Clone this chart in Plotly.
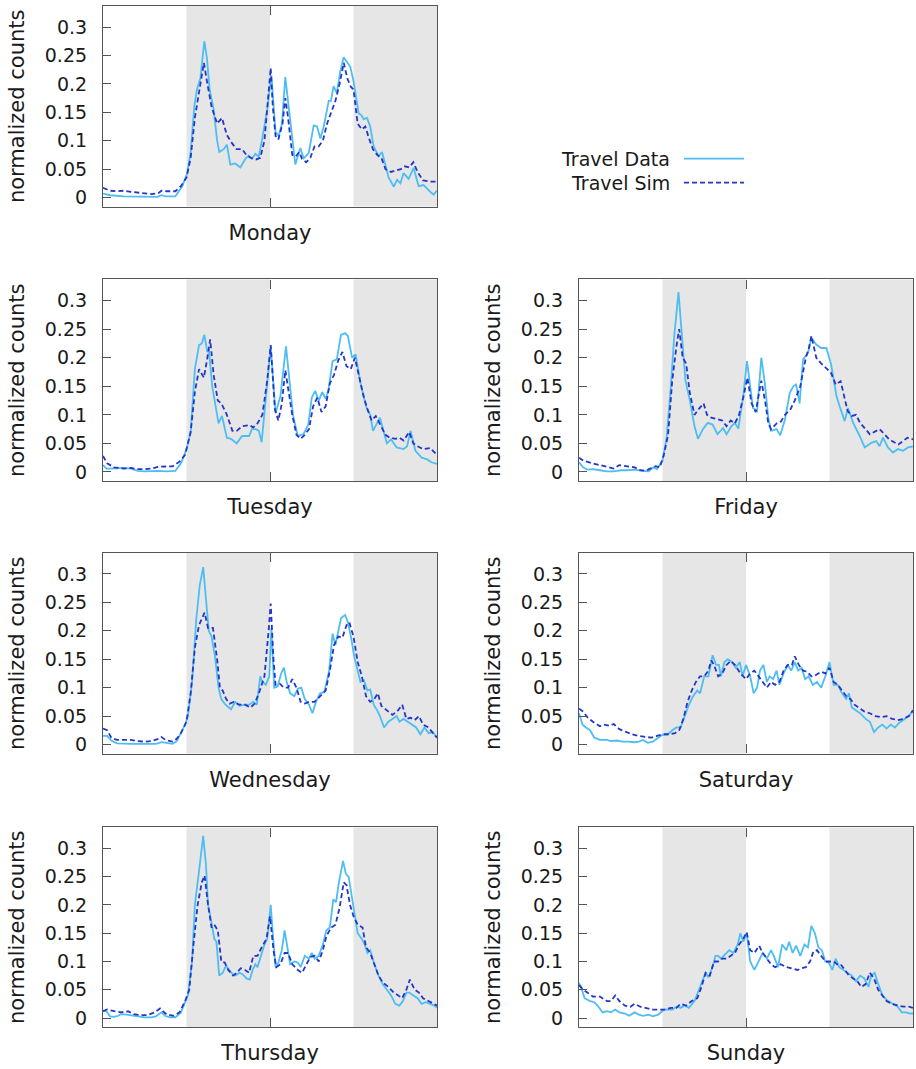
import plotly.graph_objects as go

# ---------------- data (hour of day, normalized counts) ----------------
mon_data_h = [0, 0.53, 1.5, 2.7, 3.9, 4.2, 4.5, 5.2, 5.7, 6.04, 6.3, 6.56, 6.75, 7.0, 7.28, 7.47, 7.66, 7.95, 8.2, 8.36, 8.67, 8.9, 9.15, 9.5, 9.87, 10.23, 10.47, 10.7, 10.95, 11.19, 11.42, 11.8, 12.1, 12.4, 12.62, 12.86, 13.1, 13.34, 13.65, 13.82, 14.18, 14.42, 14.78, 15.14, 15.38, 15.62, 15.86, 16.22, 16.38, 16.57, 16.8, 17.05, 17.29, 17.53, 17.77, 18.0, 18.37, 18.56, 18.73, 18.97, 19.2, 19.45, 19.8, 20.05, 20.53, 20.9, 21.13, 21.37, 21.6, 21.96, 22.32, 22.68, 23.04, 23.52, 23.76, 24]
mon_data_v = [0.007, 0.004, 0.002, 0.001, 0.001, 0.004, 0.002, 0.002, 0.02, 0.042, 0.08, 0.16, 0.19, 0.21, 0.275, 0.245, 0.19, 0.155, 0.1, 0.08, 0.085, 0.093, 0.058, 0.06, 0.053, 0.068, 0.074, 0.068, 0.077, 0.072, 0.1, 0.155, 0.215, 0.115, 0.108, 0.13, 0.212, 0.16, 0.09, 0.058, 0.087, 0.069, 0.078, 0.127, 0.125, 0.104, 0.125, 0.17, 0.17, 0.196, 0.184, 0.222, 0.247, 0.238, 0.23, 0.205, 0.148, 0.145, 0.138, 0.14, 0.125, 0.09, 0.073, 0.08, 0.035, 0.019, 0.031, 0.025, 0.043, 0.033, 0.052, 0.02, 0.022, 0.01, 0.005, 0.012]
mon_sim_h = [0, 0.5, 1.0, 1.5, 2.0, 2.5, 3.0, 3.5, 4.0, 4.2, 4.6, 5.2, 5.6, 6.0, 6.3, 6.6, 7.0, 7.25, 7.5, 7.8, 8.2, 8.55, 8.9, 9.2, 9.6, 10.0, 10.3, 10.6, 11.0, 11.3, 11.6, 11.9, 12.05, 12.2, 12.4, 12.6, 12.9, 13.1, 13.3, 13.6, 13.85, 14.1, 14.3, 14.6, 14.9, 15.2, 15.5, 15.8, 16.1, 16.4, 16.7, 17.0, 17.3, 17.55, 17.8, 18.0, 18.3, 18.6, 18.85, 19.1, 19.4, 19.7, 20.0, 20.3, 20.7, 21.1, 21.4, 21.7, 22.0, 22.3, 22.6, 23.0, 23.5, 24]
mon_sim_v = [0.017, 0.012, 0.011, 0.012, 0.01, 0.009, 0.007, 0.006, 0.008, 0.012, 0.011, 0.011, 0.02, 0.035, 0.07, 0.14, 0.2, 0.237, 0.2, 0.16, 0.13, 0.14, 0.11, 0.098, 0.085, 0.085, 0.075, 0.07, 0.067, 0.07, 0.1, 0.18, 0.228, 0.16, 0.108, 0.102, 0.13, 0.175, 0.14, 0.075, 0.072, 0.08, 0.068, 0.062, 0.07, 0.09, 0.09, 0.1, 0.13, 0.15, 0.17, 0.2, 0.237, 0.21, 0.195, 0.19, 0.13, 0.12, 0.125, 0.105, 0.085, 0.075, 0.07, 0.05, 0.045, 0.048, 0.05, 0.055, 0.053, 0.062, 0.045, 0.03, 0.028, 0.028]

tue_data_h = [0, 0.25, 0.6, 1.0, 1.5, 2.0, 2.5, 3.0, 4.0, 4.5, 5.2, 5.6, 6.0, 6.3, 6.6, 6.9, 7.1, 7.28, 7.5, 7.6, 7.85, 8.3, 8.55, 8.9, 9.2, 9.6, 10.0, 10.5, 10.7, 11.0, 11.2, 11.4, 11.7, 12.05, 12.4, 12.75, 13.15, 13.4, 13.65, 14.0, 14.4, 14.75, 15.0, 15.25, 15.5, 15.75, 16.0, 16.2, 16.5, 16.8, 17.1, 17.4, 17.6, 17.9, 18.15, 18.5, 18.9, 19.2, 19.4, 19.9, 20.4, 20.7, 21.1, 21.6, 21.85, 22.1, 22.45, 22.9, 23.3, 23.6, 24]
tue_data_v = [0.012, 0.006, 0.006, 0.007, 0.007, 0.006, 0.002, 0.001, 0.002, 0.001, 0.002, 0.015, 0.04, 0.07, 0.18, 0.222, 0.225, 0.24, 0.21, 0.215, 0.15, 0.085, 0.098, 0.06, 0.058, 0.05, 0.063, 0.063, 0.075, 0.075, 0.072, 0.052, 0.13, 0.22, 0.103, 0.133, 0.22, 0.165, 0.1, 0.063, 0.066, 0.083, 0.13, 0.142, 0.125, 0.14, 0.128, 0.144, 0.194, 0.197, 0.24, 0.243, 0.238, 0.2, 0.206, 0.156, 0.115, 0.1, 0.072, 0.095, 0.05, 0.057, 0.043, 0.04, 0.045, 0.072, 0.037, 0.025, 0.022, 0.017, 0.014]
tue_sim_h = [0, 0.3, 0.8, 1.5, 2.0, 2.5, 3.0, 3.5, 4.0, 4.5, 5.0, 5.5, 5.9, 6.3, 6.6, 6.9, 7.25, 7.5, 7.7, 7.95, 8.25, 8.5, 8.9, 9.3, 9.6, 10.0, 10.5, 10.8, 11.1, 11.45, 11.8, 12.05, 12.35, 12.6, 12.85, 13.1, 13.35, 13.6, 13.9, 14.2, 14.5, 14.8, 15.1, 15.4, 15.7, 16.0, 16.3, 16.6, 16.9, 17.2, 17.5, 17.8, 18.1, 18.4, 18.7, 19.0, 19.3, 19.6, 20.0, 20.3, 20.6, 21.0, 21.3, 21.6, 22.0, 22.3, 22.6, 23.0, 23.5, 24]
tue_sim_v = [0.028, 0.015, 0.008, 0.006, 0.007, 0.005, 0.005, 0.006, 0.009, 0.009, 0.01, 0.018, 0.03, 0.07, 0.14, 0.18, 0.165, 0.2, 0.232, 0.17, 0.125, 0.12, 0.1, 0.072, 0.072, 0.08, 0.082, 0.078, 0.085, 0.1, 0.16, 0.222, 0.11, 0.09, 0.12, 0.178, 0.14, 0.1, 0.065, 0.058, 0.065, 0.075, 0.115, 0.13, 0.105, 0.115, 0.155, 0.17, 0.195, 0.21, 0.185, 0.18, 0.2, 0.165, 0.135, 0.11, 0.09, 0.098, 0.08, 0.065, 0.06, 0.058, 0.06, 0.055, 0.07, 0.05, 0.045, 0.04, 0.042, 0.03]

fri_data_h = [0, 0.3, 0.6, 1.0, 1.5, 2.0, 2.5, 3.0, 3.5, 4.0, 4.5, 5.0, 5.35, 5.6, 6.0, 6.3, 6.6, 6.85, 7.15, 7.4, 7.65, 7.95, 8.3, 8.55, 8.9, 9.25, 9.6, 9.95, 10.35, 10.6, 10.95, 11.2, 11.45, 11.8, 12.07, 12.27, 12.5, 12.8, 13.1, 13.35, 13.6, 13.8, 14.2, 14.45, 14.8, 15.15, 15.4, 15.6, 15.85, 16.1, 16.45, 16.7, 17.05, 17.4, 17.78, 18.12, 18.5, 18.73, 19.09, 19.33, 19.7, 20.17, 20.53, 21.0, 21.36, 21.6, 21.84, 22.2, 22.56, 22.92, 23.28, 23.64, 24]
fri_data_v = [0.017, 0.008, 0.004, 0.005, 0.003, 0.001, 0.001, 0.003, 0.003, 0.004, 0.002, 0.001, 0.008, 0.005, 0.02, 0.06, 0.15, 0.24, 0.315, 0.24, 0.16, 0.127, 0.08, 0.058, 0.075, 0.086, 0.083, 0.066, 0.077, 0.066, 0.08, 0.086, 0.076, 0.133, 0.194, 0.156, 0.112, 0.107, 0.2, 0.156, 0.095, 0.072, 0.075, 0.064, 0.092, 0.139, 0.15, 0.153, 0.12, 0.197, 0.208, 0.235, 0.223, 0.217, 0.217, 0.188, 0.133, 0.115, 0.089, 0.112, 0.086, 0.063, 0.043, 0.051, 0.054, 0.045, 0.06, 0.043, 0.034, 0.04, 0.037, 0.043, 0.045]
fri_sim_h = [0, 0.3, 1.0, 1.5, 2.0, 2.5, 2.9, 3.5, 4.0, 4.4, 4.8, 5.2, 5.5, 5.8, 6.1, 6.4, 6.7, 7.0, 7.2, 7.45, 7.7, 7.95, 8.3, 8.6, 8.95, 9.2, 9.5, 9.9, 10.3, 10.6, 10.9, 11.2, 11.5, 11.8, 12.1, 12.4, 12.7, 12.95, 13.1, 13.4, 13.6, 13.8, 14.2, 14.5, 14.8, 15.2, 15.5, 15.9, 16.3, 16.5, 16.7, 17.05, 17.4, 18.1, 18.45, 18.8, 19.3, 19.6, 19.9, 20.2, 20.9, 21.6, 22.3, 22.95, 23.6, 24]
fri_sim_v = [0.025, 0.02, 0.015, 0.012, 0.01, 0.006, 0.012, 0.01, 0.008, 0.003, 0.002, 0.007, 0.01, 0.008, 0.03, 0.065, 0.16, 0.22, 0.25, 0.2, 0.19, 0.14, 0.1, 0.11, 0.12, 0.1, 0.095, 0.093, 0.09, 0.08, 0.09, 0.085, 0.1, 0.13, 0.165, 0.12, 0.105, 0.14, 0.16, 0.12, 0.085, 0.075, 0.085, 0.088, 0.1, 0.11, 0.125, 0.15, 0.2, 0.215, 0.238, 0.2, 0.19, 0.174, 0.153, 0.159, 0.107, 0.098, 0.1, 0.086, 0.066, 0.075, 0.057, 0.048, 0.06, 0.057]

wed_data_h = [0, 0.3, 0.6, 1.0, 2.0, 3.0, 3.8, 4.2, 4.6, 5.0, 5.3, 5.6, 5.9, 6.1, 6.4, 6.7, 6.95, 7.2, 7.4, 7.6, 7.8, 8.05, 8.3, 8.5, 8.8, 9.2, 9.5, 9.8, 10.2, 10.5, 10.8, 11.05, 11.3, 11.45, 11.7, 11.95, 12.1, 12.3, 12.55, 12.8, 13.0, 13.2, 13.45, 13.75, 14.0, 14.25, 14.5, 14.8, 15.05, 15.3, 15.6, 15.9, 16.25, 16.5, 16.7, 16.9, 17.1, 17.4, 17.6, 17.85, 18.05, 18.3, 18.5, 18.75, 19.0, 19.2, 19.45, 19.7, 19.9, 20.2, 20.5, 20.8, 21.1, 21.3, 21.6, 21.9, 22.2, 22.5, 22.8, 23.1, 23.4, 23.7, 24]
wed_data_v = [0.015, 0.015, 0.007, 0.002, 0.001, 0.001, 0.001, 0.004, 0.003, 0.001, 0.006, 0.02, 0.035, 0.05, 0.11, 0.22, 0.28, 0.312, 0.25, 0.2, 0.19, 0.155, 0.1, 0.08, 0.07, 0.062, 0.075, 0.068, 0.07, 0.07, 0.075, 0.07, 0.12, 0.11, 0.105, 0.12, 0.205, 0.1, 0.102, 0.125, 0.135, 0.11, 0.09, 0.085, 0.098, 0.1, 0.08, 0.07, 0.055, 0.075, 0.09, 0.092, 0.13, 0.195, 0.175, 0.2, 0.222, 0.228, 0.215, 0.185, 0.155, 0.13, 0.11, 0.113, 0.095, 0.097, 0.07, 0.06, 0.05, 0.03, 0.04, 0.045, 0.05, 0.04, 0.045, 0.04, 0.035, 0.03, 0.018, 0.03, 0.02, 0.022, 0.012]
wed_sim_h = [0, 0.3, 0.6, 1.0, 1.5, 2.0, 2.5, 3.0, 3.5, 4.0, 4.2, 4.5, 5.0, 5.3, 5.6, 6.0, 6.3, 6.6, 6.9, 7.15, 7.3, 7.55, 7.9, 8.2, 8.4, 8.6, 8.85, 9.1, 9.4, 9.8, 10.2, 10.6, 10.9, 11.2, 11.6, 11.9, 12.05, 12.25, 12.4, 12.7, 13.0, 13.3, 13.6, 13.9, 14.2, 14.5, 14.8, 15.2, 15.6, 16.0, 16.3, 16.6, 16.9, 17.2, 17.5, 17.7, 18.0, 18.3, 18.6, 18.9, 19.2, 19.5, 19.75, 20.0, 20.4, 20.8, 21.2, 21.5, 21.8, 22.1, 22.4, 22.7, 23.0, 23.4, 23.7, 24]
wed_sim_v = [0.028, 0.025, 0.012, 0.008, 0.008, 0.008, 0.006, 0.005, 0.006, 0.01, 0.013, 0.008, 0.005, 0.01, 0.02, 0.04, 0.09, 0.17, 0.21, 0.222, 0.232, 0.205, 0.205, 0.15, 0.1, 0.095, 0.08, 0.072, 0.075, 0.07, 0.07, 0.065, 0.072, 0.09, 0.12, 0.2, 0.248, 0.15, 0.105, 0.107, 0.1, 0.1, 0.115, 0.1, 0.075, 0.072, 0.075, 0.075, 0.085, 0.095, 0.13, 0.175, 0.19, 0.188, 0.21, 0.215, 0.19, 0.145, 0.12, 0.085, 0.075, 0.08, 0.09, 0.068, 0.06, 0.052, 0.06, 0.07, 0.045, 0.047, 0.043, 0.05, 0.035, 0.03, 0.02, 0.012]

thu_data_h = [0, 0.25, 0.5, 0.8, 1.1, 1.3, 1.7, 2.2, 2.6, 3.0, 3.5, 3.8, 4.2, 4.45, 4.8, 5.2, 5.6, 5.9, 6.1, 6.4, 6.6, 6.9, 7.2, 7.4, 7.55, 7.75, 8.0, 8.15, 8.35, 8.6, 8.85, 9.05, 9.3, 9.5, 9.8, 10.05, 10.3, 10.55, 10.75, 10.95, 11.1, 11.35, 11.6, 11.8, 12.05, 12.2, 12.4, 12.6, 12.85, 13.05, 13.25, 13.45, 13.75, 14.0, 14.2, 14.5, 14.8, 15.0, 15.2, 15.5, 15.8, 16.05, 16.3, 16.55, 16.75, 16.95, 17.25, 17.45, 17.65, 17.85, 18.05, 18.3, 18.6, 18.8, 19.0, 19.2, 19.5, 19.8, 20.1, 20.4, 20.7, 21.0, 21.3, 21.55, 21.8, 22.0, 22.3, 22.6, 22.9, 23.2, 23.5, 23.8, 24]
thu_data_v = [0.013, 0.012, 0.003, 0.002, 0.004, 0.007, 0.006, 0.004, 0.003, 0.001, 0.001, 0.003, 0.01, 0.004, 0.001, 0.001, 0.01, 0.03, 0.04, 0.1, 0.2, 0.26, 0.322, 0.27, 0.2, 0.175, 0.14, 0.135, 0.075, 0.08, 0.093, 0.085, 0.078, 0.075, 0.08, 0.077, 0.07, 0.068, 0.085, 0.095, 0.09, 0.11, 0.13, 0.14, 0.2, 0.15, 0.09, 0.098, 0.12, 0.155, 0.125, 0.095, 0.1, 0.098, 0.09, 0.11, 0.105, 0.115, 0.105, 0.11, 0.13, 0.155, 0.16, 0.21, 0.205, 0.24, 0.278, 0.255, 0.25, 0.22, 0.19, 0.15, 0.14, 0.13, 0.115, 0.12, 0.095, 0.075, 0.06, 0.05, 0.04, 0.025, 0.022, 0.03, 0.045, 0.045, 0.04, 0.035, 0.025, 0.028, 0.025, 0.022, 0.018]
thu_sim_h = [0, 0.3, 0.8, 1.3, 1.8, 2.2, 2.7, 3.2, 3.7, 4.1, 4.3, 4.6, 5.1, 5.5, 5.9, 6.2, 6.5, 6.8, 7.1, 7.3, 7.55, 7.8, 8.0, 8.25, 8.5, 8.75, 9.0, 9.35, 9.6, 9.9, 10.2, 10.5, 10.8, 11.1, 11.4, 11.75, 12.0, 12.25, 12.45, 12.75, 13.05, 13.3, 13.6, 14.0, 14.3, 14.6, 14.9, 15.2, 15.5, 15.8, 16.05, 16.4, 16.7, 17.0, 17.3, 17.5, 17.75, 18.0, 18.3, 18.65, 18.9, 19.2, 19.5, 19.8, 20.1, 20.5, 20.9, 21.2, 21.5, 21.8, 22.05, 22.4, 22.7, 23.0, 23.4, 23.7, 24]
thu_sim_v = [0.012, 0.015, 0.012, 0.01, 0.012, 0.007, 0.005, 0.005, 0.01, 0.017, 0.012, 0.006, 0.004, 0.01, 0.03, 0.05, 0.13, 0.2, 0.24, 0.252, 0.2, 0.16, 0.165, 0.155, 0.1, 0.098, 0.085, 0.075, 0.08, 0.088, 0.085, 0.08, 0.11, 0.11, 0.125, 0.14, 0.18, 0.12, 0.09, 0.095, 0.115, 0.115, 0.095, 0.085, 0.08, 0.095, 0.108, 0.11, 0.1, 0.12, 0.145, 0.16, 0.165, 0.195, 0.24, 0.235, 0.2, 0.18, 0.165, 0.16, 0.125, 0.115, 0.095, 0.075, 0.063, 0.055, 0.045, 0.04, 0.035, 0.05, 0.068, 0.05, 0.045, 0.035, 0.03, 0.025, 0.022]

sat_data_h = [0, 0.25, 0.5, 0.8, 1.1, 1.5, 2.0, 2.3, 2.7, 3.1, 3.5, 4.0, 4.3, 4.6, 4.95, 5.3, 5.7, 6.0, 6.4, 6.7, 7.0, 7.3, 7.6, 7.9, 8.2, 8.5, 8.7, 9.0, 9.3, 9.6, 9.85, 10.05, 10.2, 10.45, 10.7, 11.0, 11.25, 11.55, 11.75, 12.0, 12.3, 12.55, 12.8, 13.0, 13.25, 13.5, 13.7, 13.95, 14.2, 14.4, 14.7, 15.0, 15.25, 15.5, 15.75, 16.0, 16.25, 16.5, 16.8, 17.1, 17.4, 17.7, 18.0, 18.3, 18.6, 18.9, 19.2, 19.4, 19.6, 19.9, 20.2, 20.6, 20.9, 21.2, 21.5, 21.8, 22.1, 22.4, 22.7, 23.0, 23.4, 23.7, 24]
sat_data_v = [0.055, 0.035, 0.03, 0.025, 0.012, 0.008, 0.008, 0.006, 0.007, 0.005, 0.005, 0.004, 0.005, 0.008, 0.003, 0.005, 0.012, 0.017, 0.018, 0.025, 0.03, 0.03, 0.05, 0.07, 0.085, 0.095, 0.09, 0.12, 0.12, 0.157, 0.14, 0.14, 0.12, 0.145, 0.15, 0.145, 0.135, 0.145, 0.12, 0.14, 0.12, 0.09, 0.1, 0.13, 0.14, 0.11, 0.12, 0.115, 0.13, 0.105, 0.125, 0.14, 0.13, 0.145, 0.13, 0.135, 0.115, 0.12, 0.105, 0.11, 0.1, 0.12, 0.145, 0.105, 0.105, 0.09, 0.08, 0.09, 0.065, 0.06, 0.055, 0.045, 0.04, 0.022, 0.03, 0.035, 0.028, 0.035, 0.03, 0.038, 0.045, 0.05, 0.06]
sat_sim_h = [0, 0.3, 0.6, 1.0, 1.5, 1.8, 2.2, 2.5, 2.9, 3.3, 3.8, 4.3, 4.8, 5.2, 5.6, 6.0, 6.5, 6.9, 7.2, 7.5, 7.8, 8.1, 8.4, 8.7, 9.0, 9.3, 9.5, 9.7, 10.0, 10.3, 10.6, 10.9, 11.2, 11.6, 12.0, 12.3, 12.6, 12.9, 13.2, 13.5, 13.8, 14.1, 14.4, 14.7, 15.0, 15.3, 15.5, 15.8, 16.1, 16.4, 16.7, 17.0, 17.4, 17.7, 18.0, 18.3, 18.6, 18.9, 19.2, 19.5, 19.8, 20.1, 20.5, 20.9, 21.3, 21.7, 22.1, 22.5, 22.9, 23.3, 23.7, 24]
sat_sim_v = [0.063, 0.058, 0.048, 0.04, 0.032, 0.035, 0.033, 0.036, 0.027, 0.023, 0.018, 0.015, 0.013, 0.012, 0.015, 0.018, 0.018, 0.02, 0.025, 0.045, 0.075, 0.095, 0.11, 0.12, 0.12, 0.13, 0.148, 0.14, 0.12, 0.125, 0.14, 0.147, 0.14, 0.125, 0.115, 0.125, 0.13, 0.12, 0.11, 0.1, 0.11, 0.105, 0.11, 0.13, 0.14, 0.14, 0.155, 0.14, 0.13, 0.128, 0.12, 0.122, 0.128, 0.125, 0.135, 0.11, 0.105, 0.095, 0.085, 0.08, 0.07, 0.065, 0.058, 0.055, 0.05, 0.048, 0.05, 0.045, 0.043, 0.045, 0.05, 0.06]

sun_data_h = [0, 0.15, 0.4, 0.8, 1.1, 1.4, 1.7, 2.0, 2.3, 2.6, 2.9, 3.3, 3.6, 4.0, 4.3, 4.6, 5.0, 5.3, 5.7, 6.1, 6.4, 6.7, 7.0, 7.3, 7.6, 7.9, 8.3, 8.6, 8.9, 9.1, 9.3, 9.6, 9.8, 10.0, 10.2, 10.5, 10.8, 11.1, 11.4, 11.6, 11.8, 12.05, 12.3, 12.6, 12.9, 13.2, 13.5, 13.8, 14.0, 14.3, 14.6, 14.9, 15.1, 15.35, 15.6, 15.9, 16.2, 16.45, 16.7, 16.95, 17.2, 17.45, 17.7, 17.95, 18.2, 18.45, 18.7, 19.0, 19.3, 19.6, 19.9, 20.2, 20.5, 20.8, 21.0, 21.25, 21.5, 21.8, 22.2, 22.6, 22.9, 23.2, 23.5, 23.8, 24]
sun_data_v = [0.062, 0.055, 0.035, 0.03, 0.028, 0.02, 0.01, 0.012, 0.01, 0.015, 0.01, 0.008, 0.004, 0.01, 0.006, 0.004, 0.006, 0.003, 0.006, 0.015, 0.015, 0.015, 0.02, 0.018, 0.022, 0.018, 0.03, 0.05, 0.07, 0.08, 0.072, 0.09, 0.11, 0.11, 0.105, 0.112, 0.12, 0.115, 0.13, 0.15, 0.135, 0.15, 0.1, 0.085, 0.1, 0.115, 0.105, 0.12, 0.11, 0.09, 0.13, 0.12, 0.135, 0.115, 0.128, 0.11, 0.13, 0.125, 0.163, 0.15, 0.125, 0.12, 0.1, 0.098, 0.085, 0.105, 0.09, 0.085, 0.08, 0.075, 0.065, 0.075, 0.07, 0.055, 0.075, 0.08, 0.06, 0.04, 0.03, 0.025, 0.02, 0.01, 0.01, 0.008, 0.008]
sun_sim_h = [0, 0.3, 0.6, 1.0, 1.5, 2.0, 2.3, 2.6, 2.9, 3.3, 3.7, 4.0, 4.4, 4.8, 5.3, 5.8, 6.2, 6.6, 7.0, 7.3, 7.7, 8.1, 8.5, 8.8, 9.1, 9.4, 9.7, 10.0, 10.3, 10.6, 10.9, 11.2, 11.5, 11.8, 12.05, 12.3, 12.6, 12.95, 13.2, 13.5, 13.8, 14.1, 14.5, 14.9, 15.3, 15.7, 16.0, 16.3, 16.6, 16.85, 17.1, 17.4, 17.7, 18.0, 18.3, 18.55, 18.8, 19.1, 19.4, 19.7, 20.0, 20.3, 20.6, 20.9, 21.2, 21.5, 21.8, 22.1, 22.5, 22.9, 23.3, 23.7, 24]
sun_sim_v = [0.058, 0.05, 0.045, 0.038, 0.038, 0.03, 0.03, 0.04, 0.03, 0.022, 0.02, 0.025, 0.02, 0.018, 0.015, 0.015, 0.015, 0.018, 0.018, 0.025, 0.022, 0.03, 0.035, 0.055, 0.08, 0.075, 0.1, 0.1, 0.105, 0.105, 0.11, 0.115, 0.13, 0.14, 0.152, 0.12, 0.115, 0.128, 0.115, 0.105, 0.095, 0.09, 0.095, 0.09, 0.087, 0.085, 0.088, 0.09, 0.1, 0.118, 0.12, 0.11, 0.1, 0.1, 0.1, 0.095, 0.095, 0.085, 0.075, 0.07, 0.065, 0.055, 0.06, 0.08, 0.07, 0.05, 0.04, 0.03, 0.025, 0.022, 0.02, 0.02, 0.018]

day_names = ["Monday", "Tuesday", "Friday", "Wednesday", "Saturday", "Thursday", "Sunday"]
series_names = ["Travel Data", "Travel Sim"]
y_tick_vals = [0, 0.05, 0.1, 0.15, 0.2, 0.25, 0.3]
shade_spans = [(6, 12), (18, 24)]

# ---------------- layout / style ----------------
W, H = 916, 1069
DATA_COLOR = "#4DBDF2"
SIM_COLOR = "#2436C8"
SHADE = "#E6E6E6"
AXIS_COLOR = "#555555"
TEXT_COLOR = "#1a1a1a"
FONT = "DejaVu Sans"
FS = 19        # tick labels and legend
FS_TITLE = 21  # axis titles

panel_series = [
    (mon_data_h, mon_data_v, mon_sim_h, mon_sim_v),
    (tue_data_h, tue_data_v, tue_sim_h, tue_sim_v),
    (fri_data_h, fri_data_v, fri_sim_h, fri_sim_v),
    (wed_data_h, wed_data_v, wed_sim_h, wed_sim_v),
    (sat_data_h, sat_data_v, sat_sim_h, sat_sim_v),
    (thu_data_h, thu_data_v, thu_sim_h, thu_sim_v),
    (sun_data_h, sun_data_v, sun_sim_h, sun_sim_v),
]
panel_cells = [(0, 0), (1, 0), (1, 1), (2, 0), (2, 1), (3, 0), (3, 1)]
col_px = [(103, 437), (579, 913)]
row_px = [(6, 207), (280, 482), (554, 755), (829, 1029)]

fig = go.Figure()
layout = {}
shapes = []
for i, (name, (r, c), (dh, dv, sh, sv)) in enumerate(zip(day_names, panel_cells, panel_series), start=1):
    xs = "" if i == 1 else str(i)
    fig.add_trace(go.Scatter(x=dh, y=dv, mode="lines", name=series_names[0],
                             line=dict(color=DATA_COLOR, width=1.8),
                             xaxis="x" + xs, yaxis="y" + xs, showlegend=False))
    fig.add_trace(go.Scatter(x=sh, y=sv, mode="lines", name=series_names[1],
                             line=dict(color=SIM_COLOR, width=1.8, dash="5px,3px"),
                             xaxis="x" + xs, yaxis="y" + xs, showlegend=False))
    x0, x1 = col_px[c]
    y0, y1 = row_px[r]
    layout["xaxis" + xs] = dict(
        domain=[x0 / W, x1 / W], anchor="y" + xs, range=[0, 24],
        showgrid=False, zeroline=False, showline=True, linecolor=AXIS_COLOR, linewidth=1.2,
        mirror="ticks", ticks="inside", tickvals=[12], ticklen=9, tickcolor=AXIS_COLOR,
        tickwidth=1.2, showticklabels=False,
        title=dict(text=name, font=dict(family=FONT, size=FS_TITLE, color=TEXT_COLOR), standoff=18),
    )
    layout["yaxis" + xs] = dict(
        domain=[1 - y1 / H, 1 - y0 / H], anchor="x" + xs, range=[-0.016, 0.337],
        showgrid=False, zeroline=False, showline=True, linecolor=AXIS_COLOR, linewidth=1.2,
        mirror=True, ticks="inside", tickvals=y_tick_vals, ticklen=8, tickcolor=AXIS_COLOR,
        tickwidth=1.2, ticklabelstandoff=11,
        tickfont=dict(family=FONT, size=FS, color=TEXT_COLOR),
        title=dict(text="normalized counts", font=dict(family=FONT, size=FS_TITLE, color=TEXT_COLOR), standoff=14),
    )
    for a, b in shade_spans:
        shapes.append(dict(type="rect", xref="x" + xs, yref="y" + xs + " domain",
                           x0=a, x1=b, y0=0, y1=1, fillcolor=SHADE, line=dict(width=0), layer="below"))

# legend (text on the left, line sample on the right)
leg_items = [(series_names[0], DATA_COLOR, "solid", 159), (series_names[1], SIM_COLOR, "5px,3px", 183)]
annotations = []
for text, color, dash, ypx in leg_items:
    annotations.append(dict(text=text, x=672 / W, y=1 - ypx / H, xref="paper", yref="paper",
                            xanchor="right", yanchor="middle", showarrow=False,
                            font=dict(family=FONT, size=FS, color=TEXT_COLOR)))
    shapes.append(dict(type="line", xref="paper", yref="paper", x0=684 / W, x1=744 / W,
                       y0=1 - ypx / H, y1=1 - ypx / H, line=dict(color=color, width=1.8, dash=dash)))

fig.update_layout(
    width=W, height=H, margin=dict(l=0, r=0, t=0, b=0),
    paper_bgcolor="white", plot_bgcolor="white",
    font=dict(family=FONT, size=FS, color=TEXT_COLOR),
    shapes=shapes, annotations=annotations, showlegend=False, **layout,
)
fig.write_html("out.html")
